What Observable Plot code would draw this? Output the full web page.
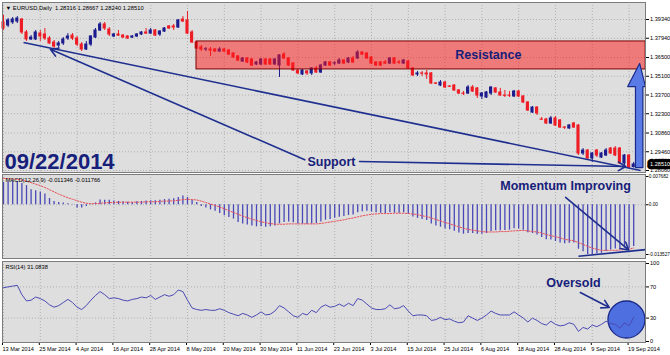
<!DOCTYPE html>
<html><head><meta charset="utf-8">
<script src="https://cdn.jsdelivr.net/npm/d3@7"></script>
<script src="https://cdn.jsdelivr.net/npm/@observablehq/plot@0.6"></script>
<style>
body{margin:0;background:#fff;}
#wrap{position:relative;width:670px;height:355px;overflow:hidden;background:#fff;}
#wrap svg{position:absolute;left:0;overflow:visible;}
</style></head><body><div id="wrap"></div>
<script>
// ---- data ----
const openP = [1.3912,1.3889,1.3912,1.3919,1.3934,1.3837,1.3785,1.3785,1.3829,1.3822,1.3792,1.3762,1.3740,1.3755,1.3792,1.3814,1.3792,1.3747,1.3710,1.3747,1.3799,1.3852,1.3897,1.3859,1.3807,1.3822,1.3814,1.3807,1.3799,1.3807,1.3822,1.3837,1.3829,1.3852,1.3822,1.3844,1.3882,1.3882,1.3874,1.3934,1.3927,1.3837,1.3762,1.3725,1.3710,1.3710,1.3710,1.3695,1.3710,1.3702,1.3680,1.3658,1.3620,1.3643,1.3635,1.3598,1.3598,1.3635,1.3635,1.3598,1.3590,1.3672,1.3643,1.3605,1.3553,1.3523,1.3546,1.3531,1.3568,1.3538,1.3590,1.3613,1.3605,1.3605,1.3628,1.3613,1.3643,1.3643,1.3687,1.3680,1.3650,1.3613,1.3613,1.3613,1.3605,1.3643,1.3613,1.3605,1.3620,1.3568,1.3523,1.3531,1.3531,1.3531,1.3456,1.3441,1.3463,1.3433,1.3441,1.3404,1.3381,1.3381,1.3426,1.3419,1.3359,1.3351,1.3381,1.3419,1.3389,1.3366,1.3366,1.3359,1.3396,1.3359,1.3314,1.3239,1.3276,1.3187,1.3187,1.3157,1.3195,1.3180,1.3127,1.3120,1.3157,1.3142,1.2933,1.2955,1.2896,1.2955,1.2903,1.2918,1.2970,1.2970,1.2970,1.2858,1.2918,1.28316];
const highP = [1.3964,1.3941,1.3949,1.3956,1.3941,1.3852,1.3814,1.3852,1.3852,1.3867,1.3807,1.3777,1.3770,1.3799,1.3829,1.3829,1.3807,1.3762,1.3770,1.3814,1.3867,1.3912,1.3912,1.3874,1.3829,1.3852,1.3822,1.3814,1.3814,1.3829,1.3844,1.3867,1.3867,1.3859,1.3852,1.3874,1.3889,1.3897,1.3934,1.3956,1.3994,1.3852,1.3770,1.3740,1.3725,1.3725,1.3717,1.3725,1.3717,1.3710,1.3687,1.3665,1.3650,1.3650,1.3643,1.3620,1.3643,1.3643,1.3643,1.3643,1.3672,1.3687,1.3650,1.3613,1.3560,1.3560,1.3553,1.3575,1.3583,1.3598,1.3620,1.3620,1.3620,1.3643,1.3635,1.3650,1.3658,1.3702,1.3695,1.3687,1.3658,1.3620,1.3620,1.3628,1.3650,1.3650,1.3628,1.3635,1.3628,1.3575,1.3546,1.3546,1.3553,1.3538,1.3463,1.3478,1.3471,1.3441,1.3448,1.3411,1.3396,1.3441,1.3441,1.3426,1.3389,1.3396,1.3433,1.3426,1.3419,1.3404,1.3396,1.3404,1.3404,1.3366,1.3321,1.3284,1.3284,1.3202,1.3195,1.3210,1.3210,1.3187,1.3135,1.3150,1.3165,1.3150,1.2970,1.2963,1.2940,1.2963,1.2940,1.2970,1.2978,1.2985,1.2978,1.2925,1.2925,1.28667];
const lowP = [1.3852,1.3874,1.3897,1.3904,1.3822,1.3770,1.3777,1.3777,1.3770,1.3777,1.3747,1.3717,1.3717,1.3740,1.3777,1.3777,1.3732,1.3695,1.3702,1.3732,1.3792,1.3844,1.3852,1.3807,1.3799,1.3807,1.3792,1.3785,1.3792,1.3799,1.3814,1.3822,1.3822,1.3807,1.3807,1.3837,1.3859,1.3852,1.3867,1.3912,1.3822,1.3755,1.3710,1.3695,1.3695,1.3658,1.3687,1.3687,1.3687,1.3665,1.3643,1.3620,1.3613,1.3605,1.3583,1.3590,1.3590,1.3590,1.3590,1.3590,1.3501,1.3635,1.3583,1.3546,1.3523,1.3516,1.3516,1.3516,1.3531,1.3531,1.3583,1.3583,1.3590,1.3598,1.3598,1.3605,1.3605,1.3635,1.3665,1.3635,1.3598,1.3583,1.3583,1.3598,1.3598,1.3598,1.3598,1.3598,1.3560,1.3508,1.3508,1.3508,1.3486,1.3448,1.3448,1.3433,1.3419,1.3426,1.3396,1.3374,1.3366,1.3374,1.3389,1.3344,1.3336,1.3344,1.3366,1.3381,1.3359,1.3351,1.3351,1.3351,1.3351,1.3306,1.3247,1.3232,1.3217,1.3180,1.3150,1.3150,1.3135,1.3120,1.3112,1.3112,1.3120,1.2918,1.2918,1.2888,1.2866,1.2903,1.2896,1.2910,1.2925,1.2910,1.2851,1.2843,1.2821,1.28240];
const closeP = [1.3867,1.3927,1.3934,1.3941,1.3837,1.3785,1.3799,1.3837,1.3807,1.3792,1.3755,1.3732,1.3755,1.3785,1.3807,1.3792,1.3747,1.3710,1.3747,1.3807,1.3852,1.3897,1.3867,1.3822,1.3822,1.3814,1.3799,1.3792,1.3807,1.3822,1.3837,1.3829,1.3852,1.3814,1.3844,1.3867,1.3867,1.3874,1.3927,1.3919,1.3829,1.3762,1.3717,1.3710,1.3712,1.3702,1.3695,1.3710,1.3695,1.3672,1.3650,1.3628,1.3643,1.3613,1.3590,1.3613,1.3635,1.3598,1.3598,1.3635,1.3665,1.3643,1.3590,1.3553,1.3531,1.3553,1.3531,1.3568,1.3538,1.3590,1.3613,1.3590,1.3607,1.3628,1.3605,1.3643,1.3613,1.3687,1.3672,1.3643,1.3605,1.3590,1.3590,1.3605,1.3643,1.3605,1.3611,1.3628,1.3568,1.3516,1.3531,1.3529,1.3523,1.3456,1.3454,1.3463,1.3426,1.3431,1.3404,1.3381,1.3379,1.3426,1.3396,1.3366,1.3381,1.3389,1.3426,1.3389,1.3366,1.3364,1.3364,1.3396,1.3359,1.3314,1.3254,1.3276,1.3232,1.3185,1.3157,1.3195,1.3142,1.3127,1.3125,1.3142,1.3127,1.2933,1.2955,1.2896,1.2933,1.2918,1.2933,1.2955,1.2933,1.2918,1.2858,1.2918,1.2828,1.28510];

const macdHist = [0.0061,0.0061,0.0063,0.0063,0.0058,0.0052,0.0041,0.0038,0.0035,0.0029,0.0017,0.0009,0.0006,0.0005,0.0003,0.0001,-0.0009,-0.0009,-0.0005,-0.0001,0.0005,0.0013,0.0012,0.0012,0.0010,0.0009,0.0008,0.0007,0.0006,0.0008,0.0009,0.0010,0.0011,0.0011,0.0012,0.0014,0.0015,0.0016,0.0020,0.0024,0.0020,0.0012,0.0006,-0.0005,-0.0009,-0.0014,-0.0018,-0.0024,-0.0030,-0.0035,-0.0039,-0.0048,-0.0052,-0.0055,-0.0058,-0.0060,-0.0060,-0.0061,-0.0060,-0.0058,-0.0052,-0.0048,-0.0047,-0.0049,-0.0052,-0.0053,-0.0054,-0.0052,-0.0051,-0.0047,-0.0042,-0.0040,-0.0037,-0.0034,-0.0032,-0.0029,-0.0028,-0.0022,-0.0019,-0.0018,-0.0020,-0.0022,-0.0023,-0.0024,-0.0022,-0.0023,-0.0023,-0.0022,-0.0026,-0.0033,-0.0037,-0.0040,-0.0043,-0.0052,-0.0058,-0.0061,-0.0066,-0.0068,-0.0072,-0.0077,-0.0080,-0.0078,-0.0078,-0.0080,-0.0080,-0.0078,-0.0073,-0.0071,-0.0071,-0.0070,-0.0069,-0.0065,-0.0066,-0.0069,-0.0076,-0.0078,-0.0082,-0.0089,-0.0095,-0.0096,-0.0100,-0.0104,-0.0106,-0.0105,-0.0104,-0.0121,-0.0128,-0.0135,-0.0135,-0.0134,-0.0132,-0.0127,-0.0123,-0.0120,-0.0122,-0.0118,-0.0120,-0.011346];
const macdSignal = [0.0072,0.0071,0.0070,0.0069,0.0067,0.0064,0.0060,0.0056,0.0052,0.0047,0.0041,0.0035,0.0029,0.0024,0.0019,0.0015,0.0011,0.0007,0.0004,0.0003,0.0003,0.0004,0.0005,0.0006,0.0006,0.0007,0.0007,0.0007,0.0007,0.0007,0.0007,0.0008,0.0008,0.0008,0.0009,0.0010,0.0010,0.0011,0.0012,0.0014,0.0015,0.0014,0.0013,0.0010,0.0006,0.0002,-0.0002,-0.0006,-0.0011,-0.0016,-0.0021,-0.0026,-0.0031,-0.0035,-0.0039,-0.0043,-0.0046,-0.0049,-0.0051,-0.0053,-0.0053,-0.0053,-0.0052,-0.0052,-0.0052,-0.0052,-0.0052,-0.0052,-0.0052,-0.0051,-0.0049,-0.0047,-0.0045,-0.0043,-0.0041,-0.0038,-0.0036,-0.0033,-0.0030,-0.0028,-0.0026,-0.0025,-0.0024,-0.0024,-0.0024,-0.0023,-0.0023,-0.0023,-0.0024,-0.0025,-0.0027,-0.0030,-0.0032,-0.0036,-0.0040,-0.0044,-0.0048,-0.0052,-0.0056,-0.0060,-0.0064,-0.0067,-0.0069,-0.0071,-0.0073,-0.0074,-0.0074,-0.0074,-0.0073,-0.0073,-0.0072,-0.0071,-0.0070,-0.0070,-0.0071,-0.0073,-0.0074,-0.0077,-0.0081,-0.0084,-0.0087,-0.0090,-0.0094,-0.0096,-0.0098,-0.0103,-0.0108,-0.0113,-0.0118,-0.0121,-0.0124,-0.0124,-0.0124,-0.0124,-0.0123,-0.0122,-0.0121,-0.011766];
const rsiVals = [69,70,71,72,60,52,53,57,55,52,47,44,46,50,54,50,44,41,46,53,59,64,60,55,56,55,53,52,54,55,57,56,59,54,57,60,58,60,66,64,53,43,41,40,41,40,40,42,40,37,35,33,36,34,31,34,38,34,35,39,46,43,38,33,31,36,34,40,37,44,47,44,45,48,45,49,46,55,53,48,43,41,41,42,47,42,43,46,39,33,34,34,33,27,28,31,28,29,26,24,25,33,30,27,30,34,39,36,34,34,34,38,34,30,25,30,27,23,21,26,22,20,21,24,22,13,18,16,21,19,22,26,23,22,17,24,20,31.0838];

const dateLabels = ["13 Mar 2014","25 Mar 2014","4 Apr 2014","16 Apr 2014","28 Apr 2014","8 May 2014","20 May 2014","30 May 2014","11 Jun 2014","23 Jun 2014","3 Jul 2014","15 Jul 2014","25 Jul 2014","6 Aug 2014","18 Aug 2014","28 Aug 2014","9 Sep 2014","19 Sep 2014"];
const dateTickIdx = [0,8,16,24,32,40,48,56,64,72,80,88,96,104,112,120,128,136];
const priceTicks = [1.3934,1.3794,1.3650,1.3510,1.3370,1.3230,1.3086,1.2946,1.2806];
const macdTicks = [0.007682,0,-0.013527];
const macdTickText = ["0.007682","0.00","-0.013527"];
const rsiTicks = [100,70,30,0];
const rsiLevels = [70,30];
const lastPrice = 1.28510;

// annotations (bar index, value)
const resistanceZone = {i1: 41.96, i2: 139.6, p1: 1.3561, p2: 1.3770};
const supportTrend = {i1: 4.35, p1: 1.3762, i2: 138.5, p2: 1.2806};
const supportArrows = [
  {i1: 65.5, p1: 1.2886, i2: 10.2, p2: 1.3712},
  {i1: 77.4, p1: 1.2873, i2: 135.3, p2: 1.2836}
];
const upArrowPts = [
  {i: 137.39, p: 1.2828}, {i: 137.39, p: 1.3433}, {i: 135.7, p: 1.3433},
  {i: 138.3, p: 1.3606}, {i: 139.57, p: 1.3433}, {i: 139.0, p: 1.3433}, {i: 139.0, p: 1.2828}
];
const momentumArrow = {i1: 122.2, v1: 0.0020, i2: 135.9, v2: -0.0123};
const momentumLine = {i1: 125.0, v1: -0.0140, i2: 139.6, v2: -0.0122};
const oversoldArrow = {i1: 125.4, v1: 62.8, i2: 131.7, v2: 43.6};
const oversoldCircle = {i: 135.43, v: 28.2};

// ---- styling ----
const BG = "#dedede", GRID = "#b0b0b0", FRAME = "#7c7c7c";
const BULL = "#1c1c8e", BEAR = "#ee1c25", NAVY = "#16207a", LINE = "#1f2f8f";
const FONT = "Liberation Sans, Arial, sans-serif";
const xDomain = [-0.217, 139.57];
const bars = openP.map((o, i) => ({i, o, h: highP[i], l: lowP[i], c: closeP[i]}));
const col = d => d.c >= d.o ? BULL : BEAR;
const baseStyle = {fontFamily: FONT, fontSize: "5.6px", color: "#000", background: "transparent", overflow: "visible"};
const wrap = document.getElementById("wrap");
function place(svg, top) { svg.style.top = top + "px"; wrap.appendChild(svg); }

// ---- main price panel ----
const main = Plot.plot({
  width: 670, height: 174, marginLeft: 2, marginRight: 25, marginTop: 2, marginBottom: 2,
  style: baseStyle,
  x: {domain: xDomain, axis: null},
  y: {domain: [1.27911, 1.40610]},
  marks: [
    Plot.frame({fill: BG}),
    Plot.ruleY(priceTicks, {stroke: GRID, strokeDasharray: "1,2"}),
    Plot.ruleX(dateTickIdx, {stroke: GRID, strokeDasharray: "1,2"}),
    Plot.ruleX(bars, {x: "i", y1: "l", y2: "h", stroke: col, strokeWidth: 1}),
    Plot.rect(bars, {x1: d => d.i - 0.34, x2: d => d.i + 0.34, y1: d => Math.min(d.o, d.c), y2: d => Math.max(d.o, d.c), fill: col, insetTop: -0.5, insetBottom: -0.5}),
    Plot.rect([resistanceZone], {x1: "i1", x2: "i2", y1: "p1", y2: "p2", fill: "#ff1616", fillOpacity: 0.5, stroke: "#7a0000", strokeWidth: 1}),
    Plot.text(["Resistance"], {x: 105.4, y: 1.3668, fill: NAVY, fontSize: 12.5, fontWeight: "bold"}),
    Plot.link([supportTrend], {x1: "i1", y1: "p1", x2: "i2", y2: "p2", stroke: LINE, strokeWidth: 1.6}),
    Plot.arrow(supportArrows, {x1: "i1", y1: "p1", x2: "i2", y2: "p2", stroke: LINE, strokeWidth: 1.6, bend: 0, headLength: 8, insetStart: 0, insetEnd: 0}),
    Plot.text(["Support"], {x: 71.3, y: 1.2868, fill: NAVY, fontSize: 12.5, fontWeight: "bold"}),
    Plot.line(upArrowPts, {x: "i", y: "p", curve: "linear-closed", fill: "#5a7be6", stroke: "#1a2a8a", strokeWidth: 1.2}),
    Plot.text(["09/22/2014"], {frameAnchor: "bottom-left", dx: 2, dy: -4, fill: NAVY, fontSize: 22, fontWeight: "bold", textAnchor: "start"}),
    Plot.text(["▼ EURUSD,Daily  1.28316 1.28667 1.28240 1.28510"], {frameAnchor: "top-left", dx: 3, dy: 3, fill: "#000", fontSize: 5.8, textAnchor: "start"}),
    Plot.axisY(priceTicks, {anchor: "right", tickSize: 3, tickPadding: 1.5, tickFormat: d => d.toFixed(5), stroke: "#000"}),
    Plot.text([lastPrice], {x: xDomain[1], y: d => d, text: d => d.toFixed(5), dx: 4.5, textAnchor: "start", fill: "#fff", stroke: "#000", strokeWidth: 6.5, paintOrder: "stroke"}),
    Plot.frame({stroke: FRAME})
  ]
});
place(main, 0);

// ---- MACD panel ----
const macdData = macdHist.map((v, i) => ({i, v, s: macdSignal[i]}));
const macd = Plot.plot({
  width: 670, height: 88, marginLeft: 2, marginRight: 25, marginTop: 2, marginBottom: 2,
  style: baseStyle,
  x: {domain: xDomain, axis: null},
  y: {domain: [-0.0146146, 0.0082258]},
  marks: [
    Plot.frame({fill: BG}),
    Plot.ruleY([0], {stroke: GRID, strokeDasharray: "1,2"}),
    Plot.ruleX(dateTickIdx, {stroke: GRID, strokeDasharray: "1,2"}),
    Plot.ruleX(macdData, {x: "i", y1: 0, y2: "v", stroke: "#4848b8", strokeWidth: 1.3}),
    Plot.line(macdData, {x: "i", y: "s", stroke: "#e8505a", strokeWidth: 1, strokeDasharray: "1.5,1.5"}),
    Plot.link([momentumLine], {x1: "i1", y1: "v1", x2: "i2", y2: "v2", stroke: LINE, strokeWidth: 1.6}),
    Plot.arrow([momentumArrow], {x1: "i1", y1: "v1", x2: "i2", y2: "v2", stroke: LINE, strokeWidth: 1.6, bend: 0, headLength: 8}),
    Plot.text(["Momentum Improving"], {x: 122.2, y: 0.0050, fill: NAVY, fontSize: 12.5, fontWeight: "bold"}),
    Plot.text(["MACD(12,26,9) -0.011346 -0.011766"], {frameAnchor: "top-left", dx: 3, dy: 3, fill: "#000", fontSize: 5.8, textAnchor: "start"}),
    Plot.axisY(macdTicks, {anchor: "right", tickSize: 2.5, tickPadding: 0.8, fontSize: 4.7, tickFormat: (d, k) => macdTickText[k]}),
    Plot.frame({stroke: FRAME})
  ]
});
place(macd, 172);

// ---- RSI panel ----
const rsiData = rsiVals.map((v, i) => ({i, v}));
const rsi = Plot.plot({
  width: 670, height: 95, marginLeft: 2, marginRight: 25, marginTop: 1, marginBottom: 13,
  style: baseStyle,
  x: {domain: xDomain},
  y: {domain: [-1.282, 102.564]},
  marks: [
    Plot.frame({fill: BG}),
    Plot.ruleY(rsiLevels, {stroke: GRID, strokeDasharray: "1,2"}),
    Plot.ruleX(dateTickIdx, {stroke: GRID, strokeDasharray: "1,2"}),
    Plot.dot([oversoldCircle], {x: "i", y: "v", r: 18.5, fill: "#4e6fe0", stroke: "#1a2a8a", strokeWidth: 1.3}),
    Plot.line(rsiData, {x: "i", y: "v", stroke: "#4a4ab4", strokeWidth: 1}),
    Plot.arrow([oversoldArrow], {x1: "i1", y1: "v1", x2: "i2", y2: "v2", stroke: LINE, strokeWidth: 1.6, bend: 0, headLength: 8}),
    Plot.text(["Oversold"], {x: 123.9, y: 75.6, fill: NAVY, fontSize: 12.5, fontWeight: "bold"}),
    Plot.text(["RSI(14) 31.0838"], {frameAnchor: "top-left", dx: 3, dy: 3, fill: "#000", fontSize: 5.8, textAnchor: "start"}),
    Plot.axisY(rsiTicks, {anchor: "right", tickSize: 3, tickPadding: 1.5, tickFormat: d => String(d)}),
    Plot.axisX(dateTickIdx, {anchor: "bottom", tickSize: 3, tickPadding: 1.5, textAnchor: "start", dx: -1, tickFormat: (d, k) => dateLabels[k]}),
    Plot.frame({stroke: FRAME})
  ]
});
place(rsi, 260);
</script></body></html>
